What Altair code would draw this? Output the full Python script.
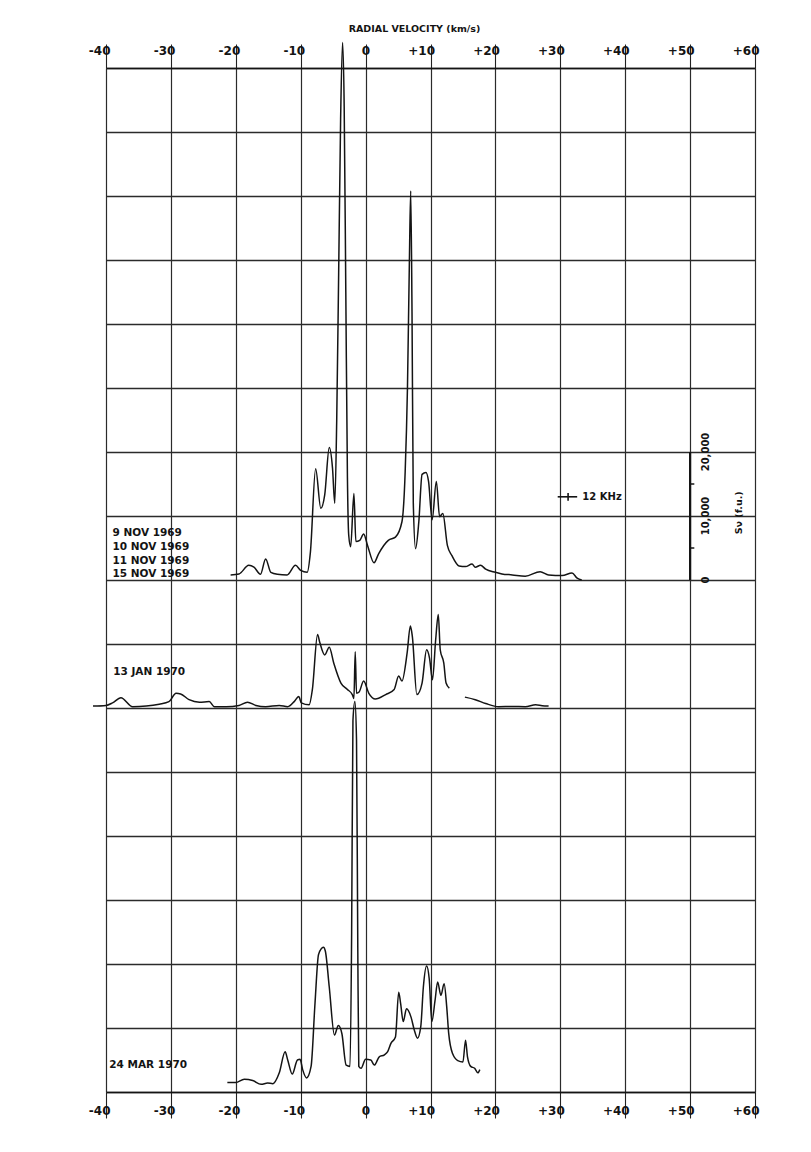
import altair as alt
import pandas as pd

# ---------------- data ----------------
# radial velocity (km/s) and flux density S_nu (f.u.) above each trace's baseline
NOV_V = [-20.8, -19.5, -18.0, -17.2, -16.2, -15.4, -14.6, -13.6, -12.1, -10.8, -10.0, -9.0,
         -8.5, -7.7, -6.9, -6.3, -5.6, -5.1, -4.75, -4.45, -4.15, -3.85, -3.55, -3.3, -3.05,
         -2.8, -2.6, -2.3, -1.8, -1.5, -0.9, -0.3, 0.3, 1.3, 2.0, 3.5, 4.6, 5.6, 6.1, 6.45,
         6.75, 6.95, 7.15, 7.35, 7.7, 8.2, 8.7, 9.3, 9.7, 10.25, 10.9, 11.4, 11.9, 12.6, 13.3,
         14.4, 15.4, 16.4, 16.9, 17.7, 18.5, 20.0, 21.0, 22.6, 24.6, 26.9, 28.2, 30.3, 31.8,
         32.6, 33.3]
NOV_S = [800, 950, 2300, 2000, 900, 3300, 1200, 900, 800, 2300, 1500, 1200,
         4400, 17400, 11200, 13300, 20700, 17500, 12000, 25000, 48000, 72000, 84000, 74000, 45000,
         16000, 7000, 5200, 13500, 6000, 6200, 7200, 5400, 2700, 4100, 6200, 6700, 9100, 17000, 30000,
         50000, 60800, 42000, 12000, 4900, 9100, 16500, 16800, 15400, 9400, 15400, 9900, 10400, 5400, 3800,
         2200, 2100, 2500, 2000, 2300, 1700, 1200, 950, 800, 600, 1300, 800, 700, 1100,
         300, 0]

JAN_A_V = [-42.0, -40.0, -39.0, -37.7, -35.9, -33.8, -31.8, -30.3, -29.2, -28.5, -27.2, -25.6,
           -24.1, -23.3, -21.5, -19.5, -18.2, -16.9, -15.4, -13.3, -12.0, -11.0, -10.3, -9.9,
           -8.7, -8.2, -7.4, -7.1, -6.3, -5.6, -4.9, -3.8, -2.8, -2.05, -1.8, -1.6, -1.4, -1.0,
           -0.3, 0.5, 1.5, 3.1, 4.4, 5.1, 5.6, 6.4, 6.9, 7.2, 7.9, 8.7, 9.4, 9.85, 10.3, 10.8,
           11.2, 11.5, 12.05, 12.4, 12.9]
JAN_A_S = [300, 400, 800, 1600, 200, 300, 600, 1000, 2300, 2200, 1300, 900,
           1000, 200, 200, 400, 900, 400, 200, 400, 200, 1000, 1800, 800,
           500, 2900, 11500, 10400, 8300, 9500, 7000, 3900, 2900, 2100, 1500, 8800, 2300, 2500,
           4200, 2300, 1400, 2100, 2900, 5000, 4200, 8600, 12800, 11200, 2100, 3900, 9100, 7800, 4400, 10700,
           14600, 9100, 7000, 3900, 3100]
JAN_B_V = [15.3, 16.9, 18.5, 20.5, 22.6, 24.6, 26.2, 27.2, 28.2]
JAN_B_S = [1700, 1300, 700, 200, 250, 200, 500, 350, 300]

MAR_V = [-21.3, -20.0, -18.7, -17.4, -16.1, -15.1, -14.3, -13.3, -12.4, -12.0, -11.3, -10.5,
         -10.1, -9.7, -9.1, -8.4, -7.8, -7.25, -6.5, -6.2, -5.6, -4.8, -4.2, -3.65, -3.0, -2.4,
         -2.15, -1.95, -1.65, -1.4, -1.2, -1.05, -0.7, 0.0, 0.8, 1.35, 2.1, 2.9, 3.4, 3.9, 4.6,
         5.1, 5.4, 5.8, 6.3, 7.0, 7.5, 8.0, 8.5, 8.9, 9.4, 9.8, 10.2, 10.7, 11.1, 11.6, 12.1,
         12.5, 12.8, 13.4, 14.2, 15.0, 15.4, 15.7, 16.2, 16.8, 17.3, 17.6]
MAR_S = [1500, 1500, 2000, 1800, 1200, 1400, 1300, 3000, 6300, 5000, 2800, 5000,
         5100, 3500, 2200, 4000, 13800, 21500, 22600, 22000, 16400, 8900, 10400, 9100, 4200, 4000,
         25000, 58000, 61000, 55000, 22000, 4000, 3700, 5100, 5000, 4200, 5500, 5800, 6300, 7600, 8600,
         15600, 13800, 11000, 13000, 11700, 9700, 8400, 10200, 16400, 19700, 17700, 11000, 14300, 17200, 15100, 16900,
         13300, 9200, 6000, 4900, 4700, 8100, 5500, 4000, 3700, 3000, 3500]

# baselines of the three traces on the common flux grid (f.u.)
BASE_NOV, BASE_JAN, BASE_MAR = 80000, 60000, 0

VEL_TICKS = list(range(-40, 61, 10))
ROW_LINES = list(range(0, 160001, 10000))

DATE_TEXT = ["9 NOV 1969", "10 NOV 1969", "11 NOV 1969", "15 NOV 1969", "13 JAN 1970", "24 MAR 1970"]

SCALE_VALUES = [0, 10000, 20000]
SCALE_TEXT = ["0", "10,000", "20,000"]
SCALE_MINOR = [5000, 15000]
RES_TEXT = "12 KHz"

# ---------------- tables ----------------
rows = []
for v, s in zip(NOV_V, NOV_S):
    rows.append({"v": v, "y": BASE_NOV + s, "seg": "nov"})
for v, s in zip(JAN_A_V, JAN_A_S):
    rows.append({"v": v, "y": BASE_JAN + s, "seg": "jan_a"})
for v, s in zip(JAN_B_V, JAN_B_S):
    rows.append({"v": v, "y": BASE_JAN + s, "seg": "jan_b"})
for v, s in zip(MAR_V, MAR_S):
    rows.append({"v": v, "y": BASE_MAR + s, "seg": "mar"})
spec_df = pd.DataFrame(rows)

date_df = pd.DataFrame({
    "t": DATE_TEXT,
    "v": [-39.0, -39.0, -39.0, -39.0, -38.9, -39.5],
    "y": [87300, 85150, 82950, 80900, 65650, 4200],
})

bar_df = pd.DataFrame({"v": [50], "y0": [BASE_NOV], "y1": [BASE_NOV + 20000]})
minor_df = pd.DataFrame({"v": [50] * 2, "v2": [50.65] * 2, "y": [BASE_NOV + m for m in SCALE_MINOR]})
scale_txt_df = pd.DataFrame({"t": SCALE_TEXT, "v": [52.5] * 3, "y": [BASE_NOV + s for s in SCALE_VALUES]})
unit_df = pd.DataFrame({"t": ["Sν (f.u.)"], "v": [57.6], "y": [BASE_NOV + 10500]})

res_bar_df = pd.DataFrame({"v": [29.6], "v2": [32.6], "y": [BASE_NOV + 13000]})
res_tick_df = pd.DataFrame({"v": [31.2], "y0": [BASE_NOV + 12400], "y1": [BASE_NOV + 13600]})
res_txt_df = pd.DataFrame({"t": [RES_TEXT], "v": [33.4], "y": [BASE_NOV + 13000]})

# ---------------- chart ----------------
W, H = 649, 1024
FONT = "DejaVu Sans"
INK = "#141414"
GRID = "#2b2b2b"
xs = alt.Scale(domain=[-40, 60], nice=False, zero=False)
ys = alt.Scale(domain=[0, 160000], nice=False, zero=False)
label_expr = "datum.value > 0 ? '+' + datum.value : '' + datum.value"

axis_common = dict(
    values=VEL_TICKS, labelExpr=label_expr, labelFlush=False, labelOverlap=False,
    labelAlign="right", labelOffset=4, labelFont=FONT, labelFontSize=12,
    labelFontWeight="bold", labelColor=INK, tickColor="#222", tickWidth=1.1,
    domainColor=INK, domainWidth=1.5,
)

lines = alt.Chart(spec_df).mark_line(
    color=INK, strokeWidth=1.5, interpolate="monotone", strokeJoin="round"
).encode(
    x=alt.X("v:Q", scale=xs, axis=alt.Axis(
        orient="top", grid=True, gridColor=GRID, gridWidth=1.2,
        tickSize=24, labelPadding=-13,
        title="RADIAL VELOCITY (km/s)", titleX=308, titleY=-40,
        titleAlign="center", titleBaseline="middle", titleFont=FONT,
        titleFontSize=9.5, titleFontWeight="bold", titleColor=INK,
        **axis_common)),
    y=alt.Y("y:Q", scale=ys, axis=alt.Axis(
        values=ROW_LINES, labels=False, ticks=False, domain=False, grid=True,
        gridColor=GRID, gridWidth=1.3, title=None)),
    detail="seg:N",
)

bar = alt.Chart(bar_df).mark_rule(color=INK, strokeWidth=2.2).encode(
    x=alt.X("v:Q", scale=xs, axis=alt.Axis(
        orient="bottom", grid=False, tickSize=26, labelPadding=-13, title=None,
        labelBaseline="top", **axis_common)),
    y=alt.Y("y0:Q", scale=ys, axis=None),
    y2="y1:Q",
)

minor = alt.Chart(minor_df).mark_rule(color=INK, strokeWidth=1.5).encode(
    x=alt.X("v:Q", scale=xs, axis=None), x2="v2:Q",
    y=alt.Y("y:Q", scale=ys, axis=None),
)

scale_txt = alt.Chart(scale_txt_df).mark_text(
    angle=270, align="center", baseline="middle", font=FONT, fontSize=10,
    fontWeight="bold", color=INK,
).encode(
    x=alt.X("v:Q", scale=xs, axis=None),
    y=alt.Y("y:Q", scale=ys, axis=None),
    text="t:N",
)

unit_txt = alt.Chart(unit_df).mark_text(
    angle=270, align="center", baseline="middle", font=FONT, fontSize=9.5,
    fontWeight="bold", color=INK,
).encode(
    x=alt.X("v:Q", scale=xs, axis=None),
    y=alt.Y("y:Q", scale=ys, axis=None),
    text="t:N",
)

res_bar = alt.Chart(res_bar_df).mark_rule(color=INK, strokeWidth=1.6).encode(
    x=alt.X("v:Q", scale=xs, axis=None), x2="v2:Q",
    y=alt.Y("y:Q", scale=ys, axis=None),
)
res_tick = alt.Chart(res_tick_df).mark_rule(color=INK, strokeWidth=1.6).encode(
    x=alt.X("v:Q", scale=xs, axis=None),
    y=alt.Y("y0:Q", scale=ys, axis=None), y2="y1:Q",
)
res_txt = alt.Chart(res_txt_df).mark_text(
    align="left", baseline="middle", font=FONT, fontSize=10, fontWeight="bold", color=INK,
).encode(
    x=alt.X("v:Q", scale=xs, axis=None),
    y=alt.Y("y:Q", scale=ys, axis=None),
    text="t:N",
)

dates = alt.Chart(date_df).mark_text(
    align="left", baseline="middle", font=FONT, fontSize=10.5, fontWeight="bold", color=INK,
).encode(
    x=alt.X("v:Q", scale=xs, axis=None),
    y=alt.Y("y:Q", scale=ys, axis=None),
    text="t:N",
)

chart = alt.layer(
    lines, bar, minor, scale_txt, unit_txt, res_bar, res_tick, res_txt, dates
).resolve_axis(x="independent", y="independent").properties(
    width=W, height=H,
    autosize=alt.AutoSizeParams(type="none"),
    padding={"left": 98, "top": 60, "right": 40, "bottom": 40},
    background="white",
).configure_view(stroke=None)

chart.save("out.html", embed_options={"renderer": "svg", "actions": False})
